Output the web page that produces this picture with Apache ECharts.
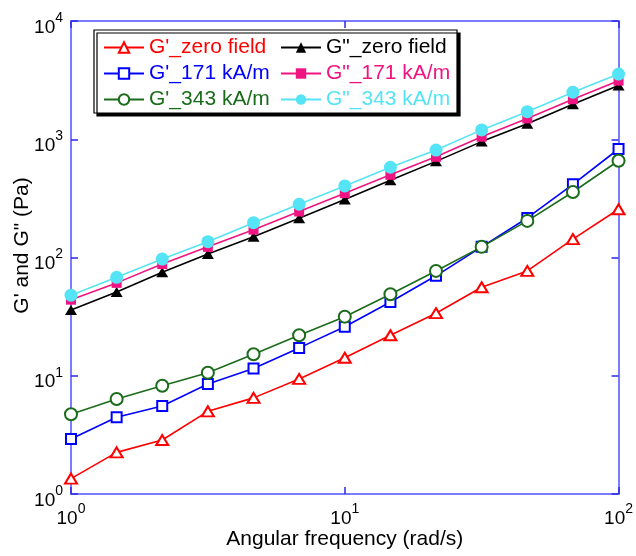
<!DOCTYPE html>
<html>
<head>
<meta charset="utf-8">
<script src="https://cdn.jsdelivr.net/npm/echarts@6/dist/echarts.min.js"></script>
<style>
html,body{margin:0;padding:0;background:#fff;}
#chart{width:636px;height:556px;}
</style>
</head>
<body>
<div id="chart"></div>
<script>
// Angular frequency (rad/s)
const freq = [1, 1.468, 2.154, 3.162, 4.642, 6.813, 10, 14.68, 21.54, 31.62, 46.42, 68.13, 100];
// Series values (Pa)
const gpZero   = [1.35, 2.25, 2.86, 5.0, 6.5, 9.4, 14.2, 22, 33.8, 56, 77, 143, 256];
const gppZero  = [36, 51, 75, 107, 150, 215, 310, 450, 650, 955, 1350, 1980, 2850];
const gp171    = [2.92, 4.45, 5.55, 8.5, 11.5, 17.2, 26, 42, 70, 123, 216, 416, 827];
const gpp171   = [44, 61, 88, 123, 172, 245, 350, 500, 710, 1050, 1500, 2180, 3130];
const gp343    = [4.72, 6.36, 8.24, 10.6, 15.2, 22, 31.6, 48.9, 77, 123, 204, 358, 658];
const gpp343   = [48, 68, 97, 136, 197, 282, 403, 580, 810, 1200, 1710, 2500, 3560];
// Tick labels (decades)
const xTicks = [1, 10, 100];
const yTicks = [1, 10, 100, 1000, 10000];
const seriesNames = ["G'_zero field", "G\"_zero field", "G'_171 kA/m", "G\"_171 kA/m", "G'_343 kA/m", "G\"_343 kA/m"];

const FONT = "'Liberation Sans', Arial, sans-serif";
const colors = {
  "G'_zero field": '#ff0000',
  "G\"_zero field": '#000000',
  "G'_171 kA/m": '#0000ff',
  "G\"_171 kA/m": '#f01482',
  "G'_343 kA/m": '#1a6b1a',
  "G\"_343 kA/m": '#55e4f5'
};
const values = {
  "G'_zero field": gpZero,
  "G\"_zero field": gppZero,
  "G'_171 kA/m": gp171,
  "G\"_171 kA/m": gpp171,
  "G'_343 kA/m": gp343,
  "G\"_343 kA/m": gpp343
};
const symbols = {
  "G'_zero field": ['emptyTriangle', [12, 10]],
  "G\"_zero field": ['triangle', [12, 10]],
  "G'_171 kA/m": ['emptyRect', [10, 10]],
  "G\"_171 kA/m": ['rect', [10, 10]],
  "G'_343 kA/m": ['emptyCircle', [12, 12]],
  "G\"_343 kA/m": ['circle', [13, 13]]
};

function pairs(ys) { return freq.map((x, i) => [x, ys[i]]); }
function expLabel(v) { return '{b|10}{s|' + Math.round(Math.log10(v)) + '}'; }

const labelRich = {
  b: { fontSize: 19, lineHeight: 26, verticalAlign: 'bottom', fontFamily: FONT, color: '#000' },
  s: { fontSize: 14, lineHeight: 13, verticalAlign: 'top', fontFamily: FONT, color: '#000' }
};
const axisLineStyle = { show: true, onZero: false, lineStyle: { color: '#7b7bff', width: 2 } };
const tickStyle = { show: true, inside: true, length: 7, lineStyle: { color: '#2a2ae6', width: 1.5 } };

const chart = echarts.init(document.getElementById('chart'), null, { renderer: 'canvas' });

const series = seriesNames.map(name => ({
  name: name,
  type: 'line',
  xAxisIndex: 0,
  yAxisIndex: 0,
  data: pairs(values[name]),
  color: colors[name],
  symbol: symbols[name][0],
  symbolSize: symbols[name][1],
  showAllSymbol: true,
  lineStyle: { width: 1.6, color: colors[name] },
  itemStyle: { color: colors[name], borderWidth: 1.2 },
  emphasis: { disabled: true }
}));

function legendData(names) {
  return names.map(n => ({ name: n, textStyle: { color: colors[n] } }));
}
const legendCommon = {
  orient: 'vertical',
  itemGap: 5,
  itemWidth: 40,
  itemHeight: 13,
  padding: 0,
  selectedMode: false,
  z: 5,
  textStyle: { fontSize: 21, fontFamily: FONT }
};

chart.setOption({
  animation: false,
  backgroundColor: '#fff',
  grid: { left: 71, right: 15, top: 21, bottom: 62, containLabel: false },
  xAxis: [
    {
      type: 'log', logBase: 10, position: 'bottom',
      min: xTicks[0], max: xTicks[xTicks.length - 1], interval: 1,
      name: 'Angular frequency (rad/s)', nameLocation: 'middle', nameGap: 35, nameMoveOverlap: false,
      nameTextStyle: { fontSize: 21, fontFamily: FONT, color: '#000' },
      axisLine: axisLineStyle, axisTick: tickStyle,
      axisLabel: { show: true, margin: 8, formatter: expLabel, rich: labelRich },
      splitLine: { show: false }, minorTick: { show: false }
    },
    {
      type: 'log', logBase: 10, position: 'top',
      min: xTicks[0], max: xTicks[xTicks.length - 1], interval: 1,
      axisLine: axisLineStyle, axisTick: tickStyle,
      axisLabel: { show: false }, splitLine: { show: false }
    }
  ],
  yAxis: [
    {
      type: 'log', logBase: 10, position: 'left',
      min: yTicks[0], max: yTicks[yTicks.length - 1], interval: 1,
      name: 'G\' and G" (Pa)', nameLocation: 'middle', nameGap: 38, nameRotate: 90, nameMoveOverlap: false,
      nameTextStyle: { fontSize: 21, fontFamily: FONT, color: '#000', padding: [0, 0, 0, 24] },
      axisLine: axisLineStyle, axisTick: tickStyle,
      axisLabel: { show: true, margin: 8, formatter: expLabel, rich: labelRich, padding: [6, 0, 0, 0] },
      splitLine: { show: false }, minorTick: { show: false }
    },
    {
      type: 'log', logBase: 10, position: 'right',
      min: yTicks[0], max: yTicks[yTicks.length - 1], interval: 1,
      axisLine: axisLineStyle, axisTick: tickStyle,
      axisLabel: { show: false }, splitLine: { show: false }
    }
  ],
  graphic: [
    {
      type: 'rect', z: 3, silent: true,
      shape: { x: 94, y: 30, width: 363, height: 83 },
      style: { fill: '#fff', stroke: '#000', lineWidth: 1.2, shadowColor: '#000', shadowOffsetX: 3, shadowOffsetY: 3, shadowBlur: 0 }
    }
  ],
  legend: [
    Object.assign({}, legendCommon, { left: 103, top: 37, data: legendData([seriesNames[0], seriesNames[2], seriesNames[4]]) }),
    Object.assign({}, legendCommon, { left: 280, top: 37, data: legendData([seriesNames[1], seriesNames[3], seriesNames[5]]) })
  ],
  series: series
});
</script>
</body>
</html>
